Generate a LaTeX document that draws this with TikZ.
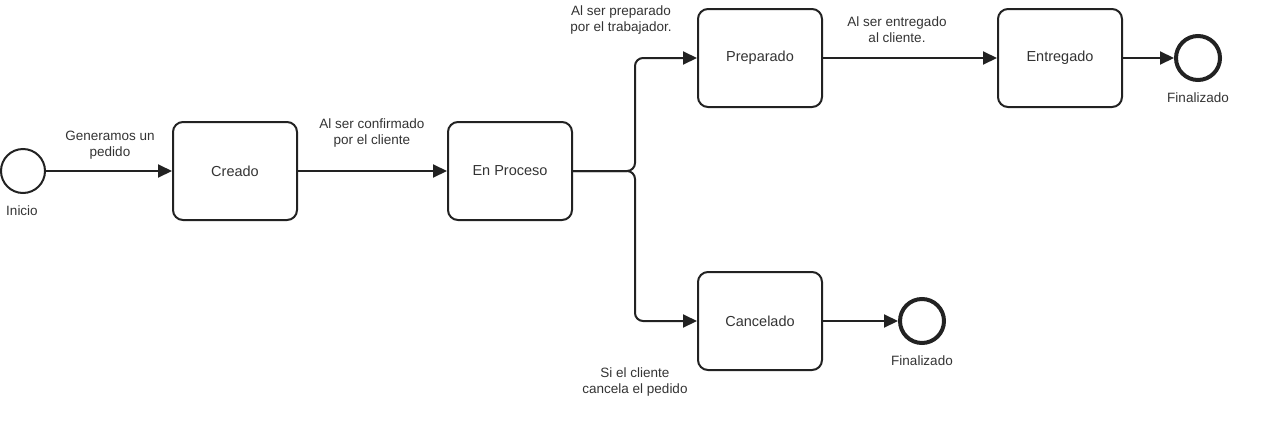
\documentclass[tikz,border=0pt]{standalone}
\usepackage{fontspec}
\setmainfont{Liberation Sans}
\usetikzlibrary{arrows.meta}
\definecolor{ink}{HTML}{222222}
\definecolor{txt}{HTML}{333333}
\tikzset{
  statebox/.style={draw=ink, line width=2pt, rounded corners=10pt, minimum width=124pt, minimum height=98pt, font=\fontsize{14.5}{17}\selectfont, text=txt},
  startev/.style={circle, draw=ink, line width=2pt, minimum size=44pt, inner sep=0pt},
  endev/.style={circle, draw=ink, line width=4pt, minimum size=44pt, inner sep=0pt},
  flow/.style={draw=ink, line width=2pt, -{Triangle[length=14pt,width=13pt]}, rounded corners=8pt},
  lbl/.style={align=center, font=\fontsize{13.5}{16}\selectfont, text=txt, inner sep=0pt}
}
\begin{document}
\begin{tikzpicture}[x=1pt,y=-1pt]
\useasboundingbox (0,0) rectangle (1271,426);
\node[startev] (ini) at (23,171) {};
\node[lbl] (inil) at (22,211) {Inicio};
\node[statebox] (cre) at (235,171) {Creado};
\node[statebox] (proc) at (510,171) {En Proceso};
\node[statebox] (prep) at (760,58) {Preparado};
\node[statebox] (ent) at (1060,58) {Entregado};
\node[statebox] (can) at (760,321) {Cancelado};
\node[endev] (fin1) at (1198,58) {};
\node[lbl] (fin1l) at (1198,98) {Finalizado};
\node[endev] (fin2) at (922,321) {};
\node[lbl] (fin2l) at (922,361) {Finalizado};
\coordinate (split) at (635,171);
\draw[flow] (ini) -- (cre);
\draw[flow] (cre) -- (proc);
\draw[flow] (proc.east) -- (split) |- (prep.west);
\draw[flow] (proc.east) -- (split) |- (can.west);
\draw[flow] (prep) -- (ent);
\draw[flow] (ent) -- (fin1);
\draw[flow] (can) -- (fin2);
\node[lbl] (l1) at (110,145) {Generamos un\\pedido};
\node[lbl] (l2) at (372,133) {Al ser confirmado\\por el cliente};
\node[lbl] (l3) at (621,20) {Al ser preparado\\por el trabajador.};
\node[lbl] (l4) at (897,30) {Al ser entregado\\al cliente.};
\node[lbl] (l5) at (635,382) {Si el cliente\\cancela el pedido};
\end{tikzpicture}
\end{document}
